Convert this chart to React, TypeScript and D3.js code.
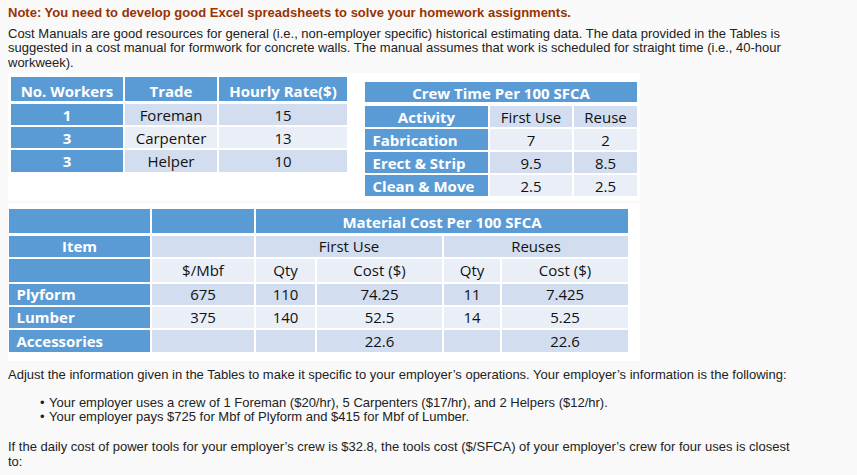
import React from "react";
import * as d3 from "d3";

// ---------- text content ----------
const noteText = "Note: You need to develop good Excel spreadsheets to solve your homework assignments.";
const introLines = [
  "Cost Manuals are good resources for general (i.e., non-employer specific) historical estimating data. The data provided in the Tables is",
  "suggested in a cost manual for formwork for concrete walls. The manual assumes that work is scheduled for straight time (i.e., 40-hour",
  "workweek).",
];
const adjustText =
  "Adjust the information given in the Tables to make it specific to your employer\u2019s operations. Your employer\u2019s information is the following:";
const bulletLines = [
  "Your employer uses a crew of 1 Foreman ($20/hr), 5 Carpenters ($17/hr), and 2 Helpers ($12/hr).",
  "Your employer pays $725 for Mbf of Plyform and $415 for Mbf of Lumber.",
];
const questionLines = [
  "If the daily cost of power tools for your employer\u2019s crew is $32.8, the tools cost ($/SFCA) of your employer\u2019s crew for four uses is closest",
  "to:",
];

// ---------- table 1: crew ----------
const crewHeaders = ["No. Workers", "Trade", "Hourly Rate($)"];
const crewWorkers = [1, 3, 3];
const crewTrades = ["Foreman", "Carpenter", "Helper"];
const crewRates = [15, 13, 10];

// ---------- table 2: crew time ----------
const timeTitle = "Crew Time Per 100 SFCA";
const timeHeaders = ["Activity", "First Use", "Reuse"];
const activities = ["Fabrication", "Erect & Strip", "Clean & Move"];
const firstUseHours = [7, 9.5, 2.5];
const reuseHours = [2, 8.5, 2.5];

// ---------- table 3: material cost ----------
const materialTitle = "Material Cost Per 100 SFCA";
const materialItemHeader = "Item";
const materialGroupHeaders = ["First Use", "Reuses"];
const materialSubHeaders = ["$/Mbf", "Qty", "Cost ($)", "Qty", "Cost ($)"];
const materialItems = ["Plyform", "Lumber", "Accessories"];
const pricePerMbf: (number | null)[] = [675, 375, null];
const firstUseQty: (number | null)[] = [110, 140, null];
const firstUseCost: (number | null)[] = [74.25, 52.5, 22.6];
const reuseQty: (number | null)[] = [11, 14, null];
const reuseCost: (number | null)[] = [7.425, 5.25, 22.6];

// ---------- styles ----------
const BLUE = "#5b9bd5";
const DARK = "#d2deef";
const LIGHT = "#eaeff7";
const PAGE = "#f9f9f9";
const BODY_FONT = "'Liberation Sans', Arial, sans-serif";
const CELL_FONT = "'Open Sans', sans-serif";
const fmt = (v: number | null) => (v === null ? "" : String(v));

type Cell = {
  c0: number;
  c1: number;
  r: number;
  text?: string;
  fill: string;
  head?: boolean;
  align?: "left" | "center";
};

function Table({ cols, rows, cells }: { cols: number[][]; rows: number[][]; cells: Cell[] }) {
  return (
    <g>
      {cells.map((c, i) => {
        const x0 = cols[c.c0][0];
        const x1 = cols[c.c1][1];
        const [y0, y1, base] = rows[c.r];
        const left = c.align === "left";
        return (
          <g key={i}>
            <rect x={x0} y={y0} width={x1 - x0} height={y1 - y0} fill={c.fill} />
            {c.text ? (
              <text
                x={left ? x0 + 7.5 : (x0 + x1) / 2}
                y={base}
                textAnchor={left ? "start" : "middle"}
                fontFamily={CELL_FONT}
                fontSize={15}
                fontWeight={c.head ? 700 : 400}
                fill={c.head ? "#ffffff" : "#111111"}
              >
                {c.text}
              </text>
            ) : null}
          </g>
        );
      })}
    </g>
  );
}

const band = d3.scaleOrdinal<number, string>().domain([0, 1]).range([DARK, LIGHT]);

export default function App() {
  // table 1
  const cols1 = [[11, 123], [125, 217], [219, 347]];
  const rows1 = [[77, 101, 96.5], [104, 125, 120.5], [127, 148, 143.5], [150, 172, 167]];
  const cells1: Cell[] = [];
  crewHeaders.forEach((h, j) => cells1.push({ c0: j, c1: j, r: 0, text: h, fill: BLUE, head: true }));
  crewWorkers.forEach((w, i) => {
    const f = band(i % 2);
    cells1.push({ c0: 0, c1: 0, r: i + 1, text: String(w), fill: BLUE, head: true });
    cells1.push({ c0: 1, c1: 1, r: i + 1, text: crewTrades[i], fill: f });
    cells1.push({ c0: 2, c1: 2, r: i + 1, text: String(crewRates[i]), fill: f });
  });

  // table 2
  const cols2 = [[365, 488], [490, 572], [574, 637]];
  const rows2 = [[82, 102, 98.5], [106, 127, 122.5], [129, 150, 146], [152, 173, 169.3], [175, 196, 192.3]];
  const cells2: Cell[] = [];
  cells2.push({ c0: 0, c1: 2, r: 0, text: timeTitle, fill: BLUE, head: true });
  cells2.push({ c0: 0, c1: 0, r: 1, text: timeHeaders[0], fill: BLUE, head: true });
  cells2.push({ c0: 1, c1: 1, r: 1, text: timeHeaders[1], fill: DARK });
  cells2.push({ c0: 2, c1: 2, r: 1, text: timeHeaders[2], fill: DARK });
  activities.forEach((a, i) => {
    const f = band((i + 1) % 2);
    cells2.push({ c0: 0, c1: 0, r: i + 2, text: a, fill: BLUE, head: true, align: "left" });
    cells2.push({ c0: 1, c1: 1, r: i + 2, text: fmt(firstUseHours[i]), fill: f });
    cells2.push({ c0: 2, c1: 2, r: i + 2, text: fmt(reuseHours[i]), fill: f });
  });

  // table 3
  const cols3 = [[9, 150], [152, 254], [256, 315], [317, 442], [444, 500], [502, 628]];
  const rows3 = [[209, 233, 228.3], [236, 257, 252.3], [259, 282, 276], [284, 305, 300], [307, 328, 323.3], [330, 352, 346.7]];
  const cells3: Cell[] = [];
  cells3.push({ c0: 0, c1: 0, r: 0, fill: BLUE });
  cells3.push({ c0: 1, c1: 1, r: 0, fill: BLUE });
  cells3.push({ c0: 2, c1: 5, r: 0, text: materialTitle, fill: BLUE, head: true });
  cells3.push({ c0: 0, c1: 0, r: 1, text: materialItemHeader, fill: BLUE, head: true });
  cells3.push({ c0: 1, c1: 1, r: 1, fill: DARK });
  cells3.push({ c0: 2, c1: 3, r: 1, text: materialGroupHeaders[0], fill: DARK });
  cells3.push({ c0: 4, c1: 5, r: 1, text: materialGroupHeaders[1], fill: DARK });
  cells3.push({ c0: 0, c1: 0, r: 2, fill: BLUE });
  materialSubHeaders.forEach((h, j) => cells3.push({ c0: j + 1, c1: j + 1, r: 2, text: h, fill: LIGHT }));
  materialItems.forEach((it, i) => {
    const f = band(i % 2);
    const vals = [pricePerMbf[i], firstUseQty[i], firstUseCost[i], reuseQty[i], reuseCost[i]];
    cells3.push({ c0: 0, c1: 0, r: i + 3, text: it, fill: BLUE, head: true, align: "left" });
    vals.forEach((v, j) => cells3.push({ c0: j + 1, c1: j + 1, r: i + 3, text: fmt(v), fill: f }));
  });

  return (
    <svg
      width={857}
      height={475}
      style={{ position: "absolute", left: 0, top: 0, display: "block" }}
    >
      <rect x={0} y={0} width={857} height={475} fill={PAGE} />
      <g fontFamily={BODY_FONT} fontSize={13} fill="#222222">
        <text x={8} y={17} fontWeight={700} fill="#993300">{noteText}</text>
        {introLines.map((l, i) => (
          <text key={i} x={8} y={38 + i * 14.3}>{l}</text>
        ))}
      </g>
      <rect x={8} y={73} width={632} height={128} fill="#ffffff" />
      <rect x={8} y={203} width={632} height={158} fill="#ffffff" />
      <Table cols={cols1} rows={rows1} cells={cells1} />
      <Table cols={cols2} rows={rows2} cells={cells2} />
      <Table cols={cols3} rows={rows3} cells={cells3} />
      <g fontFamily={BODY_FONT} fontSize={13} fill="#222222">
        <text x={8} y={379}>{adjustText}</text>
        {bulletLines.map((l, i) => (
          <g key={i}>
            <text x={40} y={406.5 + i * 14.5}>{"\u2022"}</text>
            <text x={49} y={406.5 + i * 14.5}>{l}</text>
          </g>
        ))}
        {questionLines.map((l, i) => (
          <text key={i} x={8} y={451 + i * 14.5}>{l}</text>
        ))}
      </g>
    </svg>
  );
}
